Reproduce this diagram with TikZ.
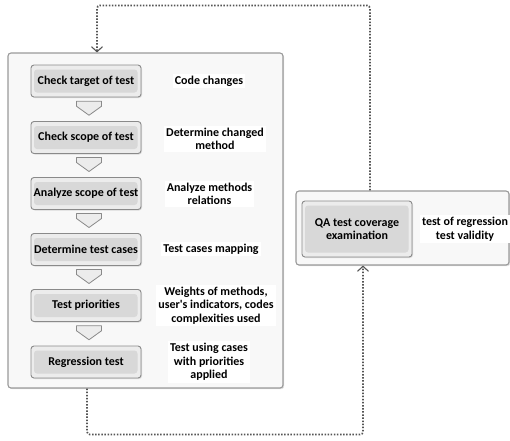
\documentclass[tikz,border=0pt]{standalone}
\usepackage{fontspec}
\setmainfont{Carlito}
\usetikzlibrary{arrows.meta,shadows,calc}

\definecolor{frame}{HTML}{9A9A9A}
\definecolor{boxedge}{HTML}{8A8A8A}
\definecolor{boxrim}{HTML}{ECECEC}
\definecolor{boxcore}{HTML}{D8D8D8}
\definecolor{panel}{HTML}{F8F8F8}
\definecolor{dots}{HTML}{555555}

\tikzset{
  panelbox/.style={draw=frame, line width=1.1pt, fill=panel, rounded corners=3pt,
    drop shadow={opacity=0.25, shadow xshift=1.2pt, shadow yshift=-1.2pt}},
  stepbox/.style={draw=boxedge, line width=0.9pt, fill=boxrim, rounded corners=3pt,
    minimum width=110pt, minimum height=32pt, inner sep=0pt, align=center,
    font=\bfseries\fontsize{12}{13.5}\selectfont,
    drop shadow={opacity=0.25, shadow xshift=1pt, shadow yshift=-1pt},
    path picture={\fill[boxcore]
      ([shift={(3pt,4.5pt)}]path picture bounding box.south west) rectangle
      ([shift={(-3.5pt,-4.5pt)}]path picture bounding box.north east);}},
  note/.style={fill=white, inner sep=2pt, align=center,
    font=\bfseries\fontsize{12}{13.5}\selectfont},
  loopline/.style={draw=dots, line width=1.7pt, dash pattern=on 1.5pt off 1.6pt,
    rounded corners=3pt},
  looptip/.style={-{Straight Barb[length=5pt,width=11pt,line width=1.1pt]}},
  chev/.pic={
    \draw[draw=boxedge, line width=0.8pt, fill=boxrim, line join=round]
      (-12.5,-7) -- (12.5,-7) -- (12.5,-2) -- (0,7) -- (-12.5,-2) -- cycle;}
}

\begin{document}
\begin{tikzpicture}[x=1pt, y=-1pt]
  \useasboundingbox (0,0) rectangle (510,440);

  % the two panels
  \node[panelbox, minimum width=275pt, minimum height=335pt] (main) at (145.5,220.5) {};
  \node[panelbox, minimum width=213pt, minimum height=74pt] (right) at (402.5,228) {};

  % process steps
  \node[stepbox] (s1) at (86,81)    {Check target of test};
  \node[stepbox] (s2) at (86,137.5) {Check scope of test};
  \node[stepbox] (s3) at (86,193.5) {Analyze scope of test};
  \node[stepbox] (s4) at (86,249.5) {Determine test cases};
  \node[stepbox] (s5) at (86,305.5) {Test priorities};
  \node[stepbox] (s6) at (86,362)   {Regression test};

  % downward chevrons between steps
  \foreach \a/\b in {s1/s2, s2/s3, s3/s4, s4/s5, s5/s6}
    \pic at ($(\a.south)!0.5!(\b.north)+(3,-1)$) {chev};

  % descriptions of the steps
  \node[note] (n1) at (209,81)    {Code changes};
  \node[note] (n2) at (215,139)   {Determine changed\\method};
  \node[note] (n3) at (209.5,194) {Analyze methods\\relations};
  \node[note] (n4) at (211,249)   {Test cases mapping};
  \node[note] (n5) at (216,305.5) {Weights of methods,\\user\textquotesingle s indicators, codes\\complexities used};
  \node[note] (n6) at (209,362)   {Test using cases\\with priorities\\applied};

  % QA stage
  \node[stepbox, minimum width=110pt, minimum height=56pt] (qa) at (357,229)
    {QA test coverage\\examination};
  \node[note] (nq) at (465,229) {test of regression\\test validity};

  % feedback loops
  \draw[loopline, looptip] ([xshift=-32.5pt]right.north) -- ++(0,-185)
    -| ([xshift=-48.5pt]main.north);
  \draw[loopline, looptip] ([xshift=-58.5pt]main.south) -- ++(0,46)
    -| ([xshift=-39.5pt]right.south);
\end{tikzpicture}
\end{document}
